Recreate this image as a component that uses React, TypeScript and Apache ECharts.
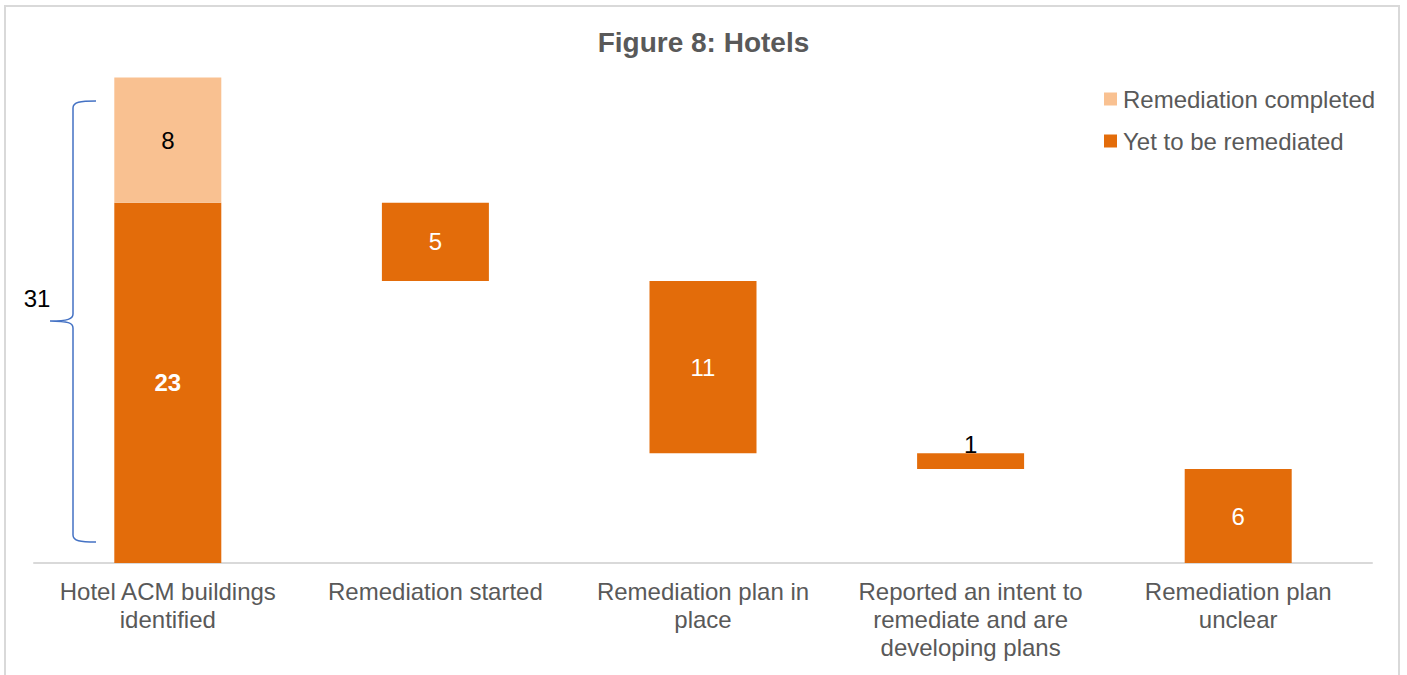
import React, { useEffect, useRef } from "react";
import * as echarts from "echarts";

const categories = [
  "Hotel ACM buildings\nidentified",
  "Remediation started",
  "Remediation plan in\nplace",
  "Reported an intent to\nremediate and are\ndeveloping plans",
  "Remediation plan\nunclear",
];
const baseValues = [0, 18, 7, 6, 0];
const yetValues = [23, 5, 11, 1, 6];
const completedValues: (number | null)[] = [8, null, null, null, null];
const totalLabel = "31";
const titleText = "Figure 8: Hotels";
const seriesNames = ["Remediation completed", "Yet to be remediated"];

const FONT = "'Liberation Sans', Arial, sans-serif";
const DARK = "#E36C0A";
const LIGHT = "#F9C191";
const GREY = "#595959";

const BRACE =
  "M96,101 C80,101 73,102 73,108 L73,314 C73,319 68,321 50,321 C68,321 73,323 73,328 L73,535 C73,541 80,542 96,542";

let registered = false;

export default function App() {
  const ref = useRef<HTMLDivElement>(null);
  useEffect(() => {
    if (!ref.current) return;
    if (!registered) {
      echarts.graphic.registerShape("brace", echarts.graphic.extendPath(BRACE, {}));
      registered = true;
    }
    const chart = echarts.init(ref.current, undefined, { renderer: "svg" });
    chart.setOption({
      animation: false,
      backgroundColor: "#ffffff",
      textStyle: { fontFamily: FONT },
      title: {
        text: titleText,
        left: "center",
        top: 28,
        padding: 0,
        textStyle: { fontFamily: FONT, fontSize: 28, fontWeight: "bold", color: GREY },
      },
      legend: {
        data: seriesNames,
        orient: "vertical",
        left: 1104,
        top: 87,
        padding: 0,
        itemGap: 18,
        itemWidth: 13,
        itemHeight: 13,
        icon: "rect",
        textStyle: { fontFamily: FONT, fontSize: 24, color: GREY, lineHeight: 24, padding: [0, 0, 0, 1] },
      },
      grid: { left: 34, right: 35, top: 77.5, bottom: 112, containLabel: false },
      xAxis: {
        type: "category",
        data: categories,
        axisLine: { show: true, lineStyle: { color: "#d9d9d9", width: 2 } },
        axisTick: { show: false },
        axisLabel: {
          interval: 0,
          margin: 14,
          fontFamily: FONT,
          fontSize: 24,
          lineHeight: 28,
          color: GREY,
          align: "center",
        },
        splitLine: { show: false },
      },
      yAxis: { type: "value", min: 0, max: 31, show: false, splitLine: { show: false } },
      series: [
        {
          name: "base",
          type: "bar",
          stack: "w",
          barWidth: 107,
          silent: true,
          itemStyle: { color: "rgba(0,0,0,0)" },
          data: baseValues,
        },
        {
          name: seriesNames[1],
          type: "bar",
          stack: "w",
          barWidth: 107,
          itemStyle: { color: DARK },
          label: {
            show: true,
            position: "inside",
            fontFamily: FONT,
            fontSize: 24,
            color: "#ffffff",
          },
          data: yetValues.map((v, i) => {
            if (i === 0) return { value: v, label: { fontWeight: "bold" } };
            if (yetValues[i] <= 1)
              return { value: v, label: { position: "top", color: "#000000", distance: -3 } };
            return v;
          }),
        },
        {
          name: seriesNames[0],
          type: "bar",
          stack: "w",
          barWidth: 107,
          itemStyle: { color: LIGHT },
          label: {
            show: true,
            position: "inside",
            fontFamily: FONT,
            fontSize: 24,
            color: "#000000",
          },
          data: completedValues,
        },
      ],
      graphic: [
        {
          type: "rect",
          shape: { x: 5, y: 6, width: 1394, height: 720 },
          style: { fill: "none", stroke: "#d9d9d9", lineWidth: 2 },
          silent: true,
        },
        {
          type: "brace",
          x: 0,
          y: 0,
          style: { fill: "none", stroke: "#4472C4", lineWidth: 1.5 },
          silent: true,
        },
        {
          type: "text",
          x: 37,
          y: 298,
          style: {
            text: totalLabel,
            fontFamily: FONT,
            fontSize: 24,
            fill: "#000000",
            align: "center",
            verticalAlign: "middle",
          },
          silent: true,
        },
      ],
    });
    return () => chart.dispose();
  }, []);
  return (
    <div
      ref={ref}
      style={{ position: "fixed", left: 0, top: 0, width: 1407, height: 675 }}
    />
  );
}
